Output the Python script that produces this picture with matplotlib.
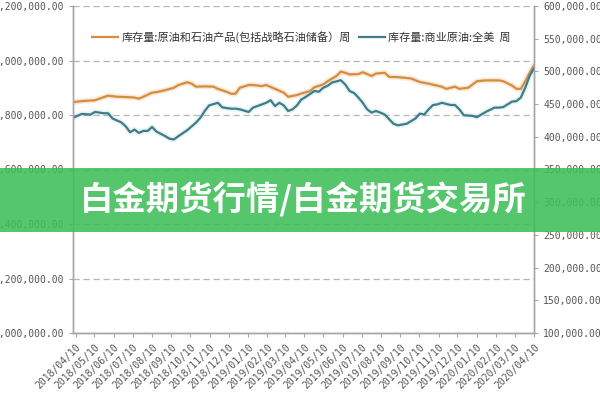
import numpy as np
import matplotlib
matplotlib.use('Agg')
import matplotlib.pyplot as plt
import matplotlib.dates as mdates
import datetime as dt

plt.rcParams['font.family'] = ['Noto Sans CJK SC', 'DejaVu Sans']

# Semanas desde 2018/04/06 (datos semanales)
semanas_total = [0, 2, 5, 6, 8, 10, 12, 14, 15, 16, 18, 19, 21, 23, 24, 26, 27, 28, 30, 32,
                 33, 35, 36, 37, 38, 40, 41, 43, 44, 46, 48, 49, 51, 52, 54, 55, 57, 58, 60, 61,
                 62, 63, 65, 66, 68, 69, 71, 72, 74, 77, 79, 81, 84, 85, 87, 88, 90, 92, 94, 97,
                 98, 100, 101, 102, 103, 104, 105]
# Inventario total: crudo y productos (incl. reserva estratégica), miles de barriles
total = [1847, 1851, 1854, 1860, 1871, 1867, 1866, 1864, 1860, 1867, 1882, 1884, 1891, 1900, 1910, 1920, 1915, 1904, 1905, 1904,
         1896, 1885, 1878, 1878, 1900, 1910, 1910, 1906, 1910, 1896, 1882, 1867, 1873, 1879, 1888, 1902, 1912, 1924, 1943, 1959,
         1955, 1949, 1950, 1957, 1943, 1952, 1955, 1940, 1939, 1934, 1921, 1915, 1904, 1896, 1904, 1896, 1900, 1924, 1927, 1927,
         1924, 1908, 1896, 1896, 1924, 1955, 1982]
total = [v * 1000 for v in total]

semanas_comercial = [0, 2, 4, 5, 7, 8, 9, 11, 12, 13, 14, 15, 16, 17, 18, 19, 21, 22, 23, 24,
                     26, 28, 29, 30, 31, 33, 34, 35, 36, 37, 38, 40, 41, 42, 44, 45, 46, 47, 48, 49,
                     50, 51, 52, 53, 55, 56, 57, 58, 59, 61, 62, 63, 64, 65, 66, 67, 68, 69, 70, 71,
                     72, 73, 74, 76, 77, 78, 79, 80, 81, 82, 83, 84, 86, 87, 88, 89, 91, 92, 93, 94,
                     96, 97, 98, 100, 101, 102, 103, 104, 105]
# Crudo comercial EE.UU., miles de barriles
comercial = [429, 435, 434, 438, 436, 436, 428, 422, 416, 407, 411, 406, 409, 409, 415, 408, 401, 397, 396, 401,
             410, 421.6, 429, 439.5, 448, 452, 445, 444, 443, 443, 442, 438, 444.6, 447, 452, 456, 447, 452, 448, 439.5,
             442, 448, 457, 461, 470, 469, 475, 478, 483, 486.5, 480, 470, 467, 460, 452, 442, 437, 439.5, 437, 434,
             427, 420, 417.5, 420, 424, 428, 435.5, 434, 442, 448.6, 449.6, 452, 448.6, 448.6, 442, 433, 432, 430, 434, 438,
             444.6, 444.6, 445.5, 453.8, 454.6, 460, 475, 493, 505]
comercial = [v * 1000 for v in comercial]

etiqueta_total = '库存量:原油和石油产品(包括战略石油储备）周'
etiqueta_comercial = '库存量:商业原油:全美  周'
titulo_banner = '白金期货行情/白金期货交易所'

inicio = dt.datetime(2018, 4, 6)
fechas_total = [inicio + dt.timedelta(weeks=s) for s in semanas_total]
fechas_comercial = [inicio + dt.timedelta(weeks=s) for s in semanas_comercial]
fechas_ticks = [dt.datetime(2018 + (3 + m) // 12, (3 + m) % 12 + 1, 10) for m in range(25)]

gris = '#a6a6a6'
naranja = '#d98b3c'
verde_azul = '#3f7c87'

fig = plt.figure(figsize=(6, 4), dpi=100)
ax = fig.add_axes([0.1217, 0.1675, 0.7683, 0.8175])
ax2 = ax.twinx()

# halo suave debajo de las líneas
ax.plot(fechas_total, total, color=naranja, lw=4, alpha=0.18, solid_capstyle='round')
l1, = ax.plot(fechas_total, total, color=naranja, lw=1.6, label=etiqueta_total)
ax2.plot(fechas_comercial, comercial, color='#7fc0cc', lw=4, alpha=0.18, solid_capstyle='round')
l2, = ax2.plot(fechas_comercial, comercial, color=verde_azul, lw=1.6, label=etiqueta_comercial)

ax.set_xlim(fechas_total[0], fechas_total[-1])
ax.set_ylim(1000000, 2200000)
ax.set_yticks(np.arange(1000000, 2200001, 200000))
ax2.set_ylim(100000, 600000)
ax2.set_yticks(np.arange(100000, 600001, 50000))

fmt = lambda v, p: '{:,.2f}'.format(v)
ax.yaxis.set_major_formatter(matplotlib.ticker.FuncFormatter(fmt))
ax2.yaxis.set_major_formatter(matplotlib.ticker.FuncFormatter(fmt))

ax.set_xticks(fechas_ticks)
ax.xaxis.set_major_formatter(mdates.DateFormatter('%Y/%m/%d'))
for lab in ax.get_xticklabels():
    lab.set_rotation(45)
    lab.set_ha('right')
    lab.set_rotation_mode('anchor')

for a in (ax, ax2):
    a.tick_params(colors=gris, labelcolor='#555555', labelsize=7, length=3, width=0.8)
    for lab in a.get_xticklabels() + a.get_yticklabels():
        lab.set_family('DejaVu Sans Mono')
    a.spines['top'].set_visible(False)
    for s in ('left', 'right', 'bottom'):
        a.spines[s].set_color(gris)
        a.spines[s].set_linewidth(1.0)

ax.grid(axis='y', color='#b5b5b5', linestyle=(0, (5, 3)), linewidth=0.9)
ax.set_axisbelow(True)

ax2.legend([l1, l2], [etiqueta_total, etiqueta_comercial], loc='upper left',
           bbox_to_anchor=(0.02, 0.955), ncol=2, frameon=False, fontsize=8,
           handlelength=2.3, columnspacing=0.8, handletextpad=0.3, labelcolor='#333333')

# Banner verde semitransparente
fig.patches.append(matplotlib.patches.Rectangle((0, 0.42), 1, 0.16, transform=fig.transFigure,
                                                facecolor='#3dbf58', alpha=0.88, zorder=10))
fig.text(0.505, 0.50, titulo_banner, color='white', fontsize=24, fontweight='bold',
         ha='center', va='center', zorder=11, family=['Noto Sans CJK SC', 'DejaVu Sans'])

plt.savefig('out.png', dpi=100)
plt.close()
